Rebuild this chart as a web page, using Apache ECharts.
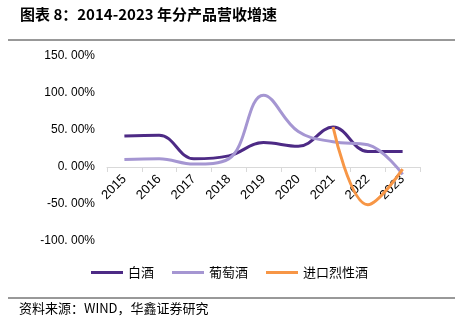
<!DOCTYPE html>
<html>
<head>
<meta charset="utf-8">
<script src="https://cdn.jsdelivr.net/npm/echarts@6/dist/echarts.min.js"></script>
<style>
html,body{margin:0;padding:0;background:#fff;}
#chart{width:459px;height:334px;}
</style>
</head>
<body>
<div id="chart"></div>
<script>
// 分产品营收增速（%）
const years = ['2015','2016','2017','2018','2019','2020','2021','2022','2023'];
const baijiu = [42, 43, 11, 15, 33, 28, 54, 21, 21];
const wine = [10, 11, 4, 11, 97, 48, 34, 30, -10];
const spirits = [null, null, null, null, null, null, 54, -51, -3];
const yTicks = [-100, -50, 0, 50, 100, 150];

const chart = echarts.init(document.getElementById('chart'));
const cjk = '"Noto Sans CJK SC", "Noto Sans", sans-serif';
const latin = '"Liberation Sans", Arial, sans-serif';
const fmt = v => v.toFixed(2).replace('.', '. ') + '%';

// grid geometry, used to put the category axis on the zero line
const gridTop = 56, gridBottom = 93, plotH = 334 - gridTop - gridBottom;
const yMin = yTicks[0], yMax = yTicks[yTicks.length - 1];
const zeroOffset = -plotH * (0 - yMin) / (yMax - yMin);

chart.setOption({
  animation: false,
  color: ['#4D2A85', '#A596D2', '#F79646'],
  graphic: [
    { type: 'text', left: 20, top: 7,
      style: { text: '图表 8：2014-2023 年分产品营收增速', font: 'bold 15px ' + cjk, fill: '#000' } },
    { type: 'line', shape: { x1: 8, y1: 40, x2: 455, y2: 40 }, style: { stroke: '#333', lineWidth: 1 } },
    { type: 'line', shape: { x1: 8, y1: 298, x2: 455, y2: 298 }, style: { stroke: '#333', lineWidth: 1 } },
    { type: 'text', left: 19, top: 302,
      style: { text: '资料来源：WIND，华鑫证券研究', font: '13px ' + cjk, fill: '#000' } }
  ],
  legend: {
    top: 261, left: 'center',
    itemWidth: 32, itemHeight: 3, itemGap: 18,
    icon: 'rect',
    textStyle: { fontFamily: cjk, fontSize: 13, color: '#000' },
    data: ['白酒', '葡萄酒', '进口烈性酒']
  },
  grid: { left: 107, right: 39, top: gridTop, bottom: gridBottom },
  xAxis: {
    type: 'category', data: years, boundaryGap: true,
    offset: zeroOffset,
    axisLine: { onZero: false, lineStyle: { color: '#d9d9d9', width: 1 } },
    axisTick: { show: true, alignWithLabel: false, length: 5, lineStyle: { color: '#d9d9d9' } },
    axisLabel: { rotate: 45, color: '#000', fontSize: 13, fontFamily: latin, margin: 10 }
  },
  yAxis: {
    type: 'value', min: yMin, max: yMax, interval: 50,
    splitLine: { show: false },
    axisLine: { show: false }, axisTick: { show: false },
    axisLabel: { formatter: fmt, color: '#000', fontSize: 12, fontFamily: latin, margin: 12 }
  },
  series: [
    { name: '白酒', type: 'line', data: baijiu, smooth: 0.4, symbol: 'none', lineStyle: { width: 3 } },
    { name: '葡萄酒', type: 'line', data: wine, smooth: 0.4, symbol: 'none', lineStyle: { width: 3 } },
    { name: '进口烈性酒', type: 'line', data: spirits, smooth: 0.4, symbol: 'none', lineStyle: { width: 3 } }
  ]
});
</script>
</body>
</html>
